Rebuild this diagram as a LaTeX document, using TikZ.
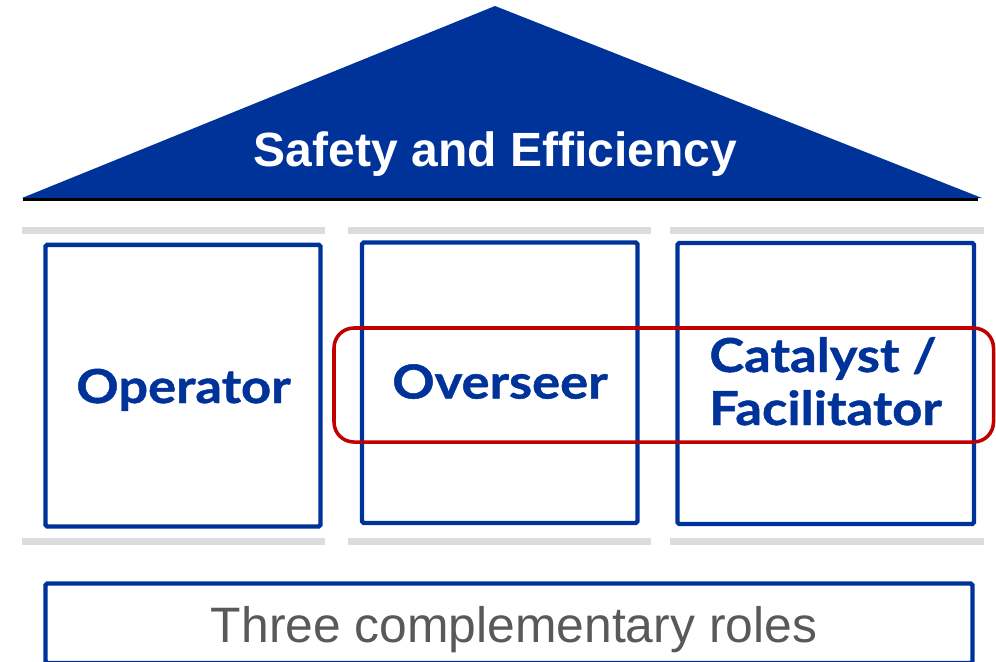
\documentclass[tikz,border=0pt]{standalone}
\usepackage{fontspec}
\setmainfont{Liberation Sans}
\newfontfamily\rolefont[BoldFeatures={FakeStretch=1.12,FakeBold=1}]{Lato}
\definecolor{roofblue}{RGB}{0,51,153}
\definecolor{ringred}{RGB}{192,0,0}
\definecolor{bargray}{RGB}{220,220,220}
\definecolor{textgray}{RGB}{89,89,89}
\begin{document}
\begin{tikzpicture}[x=0.03cm,y=-0.03cm,
	pillar/.style={draw=roofblue,line width=3.8pt,rounded corners=1.5pt},
	bar/.style={draw=bargray,line width=5.7pt},
	role/.style={text=roofblue,anchor=base,font=\rolefont\bfseries\fontsize{40}{46}\selectfont}]
	\useasboundingbox (0,0) rectangle (996,661);
	% roof
	\coordinate (L) at (22,198);
	\coordinate (T) at (495,6);
	\coordinate (R) at (982,198);
	\coordinate (E1) at (23,199.5);
	\coordinate (E2) at (978,199.5);
	\fill[roofblue] (L) -- (T) -- (R) -- cycle;
	\draw[line width=2.2pt] (E1) -- (E2);
	\node[text=white,anchor=base,font=\bfseries\fontsize{41}{48}\selectfont] (title) at (495.5,166) {Safety and Efficiency};
	% grey bars above and below the pillars
	\foreach \a/\b in {22/325,348/651,670/984} {
		\draw[bar] (\a,230.5) -- (\b,230.5);
		\draw[bar] (\a,541.5) -- (\b,541.5);
	}
	% pillars
	\coordinate (P1) at (45.5,244.8);
	\coordinate (Q1) at (320.5,526.5);
	\coordinate (P2) at (362,242.5);
	\coordinate (Q2) at (637.5,523);
	\coordinate (P3) at (677.5,243);
	\coordinate (Q3) at (974,524);
	\draw[pillar] (P1) rectangle (Q1);
	\draw[pillar] (P2) rectangle (Q2);
	\draw[pillar] (P3) rectangle (Q3);
	% base
	\coordinate (B1) at (45.5,583.5);
	\coordinate (B2) at (972.5,663);
	\draw[pillar] (B1) rectangle (B2);
	\node[text=textgray,anchor=base,font=\fontsize{42.5}{50}\selectfont] (roles) at (514,642) {Three complementary roles};
	% highlight round the last two roles
	\coordinate (H1) at (334,328);
	\coordinate (H2) at (993.5,442);
	\draw[ringred,line width=3pt,rounded corners=17pt] (H1) rectangle (H2);
	\node[role] (op) at (183.5,403) {Operator};
	\node[role] (ov) at (500,398.5) {Overseer};
	\node[role] (cat) at (823,372) {Catalyst /};
	\node[role] (fac) at (825.5,425) {Facilitator};
\end{tikzpicture}
\end{document}
